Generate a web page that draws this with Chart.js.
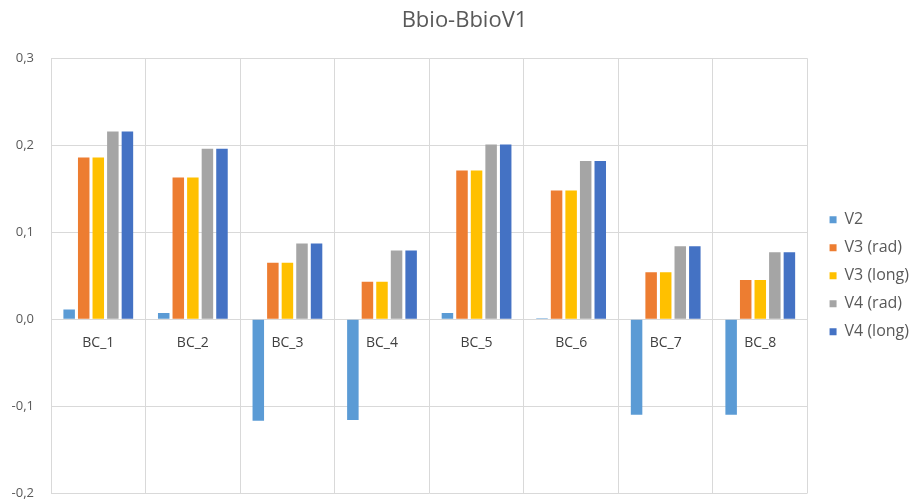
<!DOCTYPE html>
<html>
<head>
<meta charset="utf-8">
<script src="https://cdn.jsdelivr.net/npm/chart.js@4/dist/chart.umd.min.js"></script>
<style>
  html, body { margin: 0; padding: 0; background: #ffffff; }
  #wrap { width: 911px; height: 501px; }
</style>
</head>
<body>
<div id="wrap"><canvas id="chart" width="911" height="501"></canvas></div>
<script>
const categories = ['BC_1', 'BC_2', 'BC_3', 'BC_4', 'BC_5', 'BC_6', 'BC_7', 'BC_8'];
const v2       = [0.011, 0.007, -0.117, -0.116, 0.007, 0.001, -0.110, -0.110];
const v3Rad    = [0.186, 0.163, 0.065, 0.043, 0.171, 0.148, 0.054, 0.045];
const v3Long   = [0.186, 0.163, 0.065, 0.043, 0.171, 0.148, 0.054, 0.045];
const v4Rad    = [0.216, 0.196, 0.087, 0.079, 0.201, 0.182, 0.084, 0.077];
const v4Long   = [0.216, 0.196, 0.087, 0.079, 0.201, 0.182, 0.084, 0.077];
const seriesNames = ['V2', 'V3 (rad)', 'V3 (long)', 'V4 (rad)', 'V4 (long)'];
const seriesColors = ['#5B9BD5', '#ED7D31', '#FFC000', '#A5A5A5', '#4472C4'];
const yTicks = [-0.2, -0.1, 0.0, 0.1, 0.2, 0.3];

const FONT = '"Open Sans", "Liberation Sans", sans-serif';
const TEXT = '#595959';
const GRID = '#d9d9d9';

const seriesValues = [v2, v3Rad, v3Long, v4Rad, v4Long];

new Chart(document.getElementById('chart'), {
  type: 'bar',
  data: {
    labels: categories,
    datasets: seriesValues.map((vals, i) => ({
      label: seriesNames[i],
      data: vals,
      backgroundColor: seriesColors[i],
      borderWidth: 0,
      categoryPercentage: 0.77,
      barPercentage: 0.79
    }))
  },
  options: {
    responsive: false,
    animation: false,
    layout: { padding: { left: 10, right: -8, top: 0, bottom: 0 } },
    plugins: {
      title: {
        display: true,
        text: 'Bbio-BbioV1',
        color: TEXT,
        font: { family: FONT, size: 22, weight: 'normal' },
        padding: { top: 8, bottom: 24 }
      },
      legend: {
        position: 'right',
        fullSize: false,
        labels: {
          color: TEXT,
          font: { family: FONT, size: 16 },
          boxWidth: 7,
          boxHeight: 7,
          padding: 12
        }
      },
      tooltip: { enabled: false }
    },
    scales: {
      x: {
        position: { y: 0 },
        afterFit: (scale) => {
          scale.height = 0;
          scale.paddingLeft = 0;
          scale.paddingRight = 0;
        },
        grid: { color: GRID, offset: true, drawTicks: false },
        border: { display: false },
        ticks: { color: '#404040', font: { family: FONT, size: 14 }, padding: 15 }
      },
      y: {
        min: yTicks[0],
        max: yTicks[yTicks.length - 1],
        afterBuildTicks: (scale) => { scale.ticks = yTicks.map(v => ({ value: v })); },
        afterFit: (scale) => {
          scale.width = 41;
          scale.paddingTop = 8;
          scale.paddingBottom = 8;
        },
        grid: { color: GRID, drawTicks: false },
        border: { display: false },
        ticks: {
          color: TEXT,
          font: { family: FONT, size: 13 },
          padding: 17,
          callback: (v) => Number(v).toFixed(1).replace('.', ',')
        }
      },
      // empty spacer between the plot and the legend
      gap: {
        type: 'linear',
        position: 'right',
        display: true,
        grid: { display: false, drawTicks: false },
        border: { display: false },
        ticks: { display: false },
        afterFit: (scale) => { scale.width = 10; }
      }
    }
  }
});
</script>
</body>
</html>
